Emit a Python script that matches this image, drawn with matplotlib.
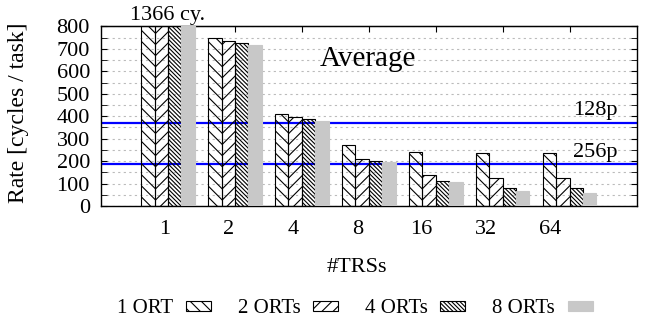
import numpy as np
import matplotlib
matplotlib.use('Agg')
import matplotlib.pyplot as plt
from matplotlib.patches import Patch

# data
trs      = ['1', '2', '4', '8', '16', '32', '64']
ort1     = [1366, 748, 410, 271, 239, 235, 235]
ort2     = [1150, 737, 398, 208, 138, 123, 123]
ort4     = [1000, 724, 387, 199, 110,  79,  79]
ort8     = [ 900, 717, 379, 195, 107,  67,  58]
names    = ['1 ORT', '2 ORTs', '4 ORTs', '8 ORTs']
ref_vals = [371, 186]
ref_labs = ['128p', '256p']

plt.rcParams['font.family'] = ['Liberation Serif', 'DejaVu Serif']
plt.rcParams['hatch.linewidth'] = 0.8
fs = 16

fig = plt.figure(figsize=(6.45, 3.18), dpi=100, facecolor='w')
ax = fig.add_axes([0.1566, 0.352, 0.8304, 0.565])

x = np.arange(len(trs))
w = 0.2
series  = [ort1, ort2, ort4, ort8]
hatches = ['\\' * 3, '/' * 3, '\\' * 8, None]
faces   = ['none', 'none', 'none', '#c8c8c8']
edges   = ['k', 'k', 'k', '#c8c8c8']
for i, (vals, h, fc, ec) in enumerate(zip(series, hatches, faces, edges)):
    ax.bar(x + (i - 1.5) * w, vals, w, facecolor=fc, edgecolor=ec, hatch=h,
           linewidth=0.8, zorder=3)

for v, lab in zip(ref_vals, ref_labs):
    ax.axhline(v, color='#0000ff', lw=1.6, zorder=2)
    ax.text(6.72, v + 12, lab, ha='right', va='bottom', fontsize=fs)

ax.text(2.98, 655, 'Average', ha='center', va='center', fontsize=21)
ax.text(0, 828, '1366 cy.', ha='center', va='baseline', fontsize=fs, clip_on=False)

ax.set_xlim(-1, 7)
ax.set_ylim(0, 800)
ax.set_yticks(np.arange(0, 801, 100))
ax.set_yticks(np.arange(50, 800, 100), minor=True)
ax.yaxis.set_ticks_position('both')
ax.tick_params(axis='y', which='both', direction='in', length=4, labelsize=fs, pad=8)
ax.grid(axis='y', which='both', color='#bbbbbb', linestyle=(0, (2, 3)), lw=0.8, zorder=0)

# labels sit a little left of the bar groups, as in the original
ax.set_xticks(x * 0.96 - 0.05)
ax.set_xticklabels(trs)
ax.tick_params(axis='x', length=0, labelsize=fs, pad=10)
sec = ax.secondary_xaxis('top')
sec.set_xticks(x)
sec.set_xticklabels([])
sec.tick_params(direction='in', length=4)

for s in ax.spines.values():
    s.set_linewidth(1.0)

ax.set_ylabel('Rate [cycles / task]', fontsize=17)
ax.yaxis.set_label_coords(-0.135, 0.52)
ax.set_xlabel('#TRSs', fontsize=fs)
ax.xaxis.set_label_coords(0.478, -0.29)

handles = [Patch(facecolor=fc, edgecolor=ec, hatch=h, linewidth=0.8)
           for h, fc, ec in zip(hatches, faces, edges)]
fig.legend(handles, names, loc='lower center', bbox_to_anchor=(0.55, -0.06),
           ncol=4, frameon=False, markerfirst=False, fontsize=15,
           handlelength=1.2, handleheight=0.4, columnspacing=1.3, handletextpad=0.6)

plt.savefig('out.png', dpi=100)
